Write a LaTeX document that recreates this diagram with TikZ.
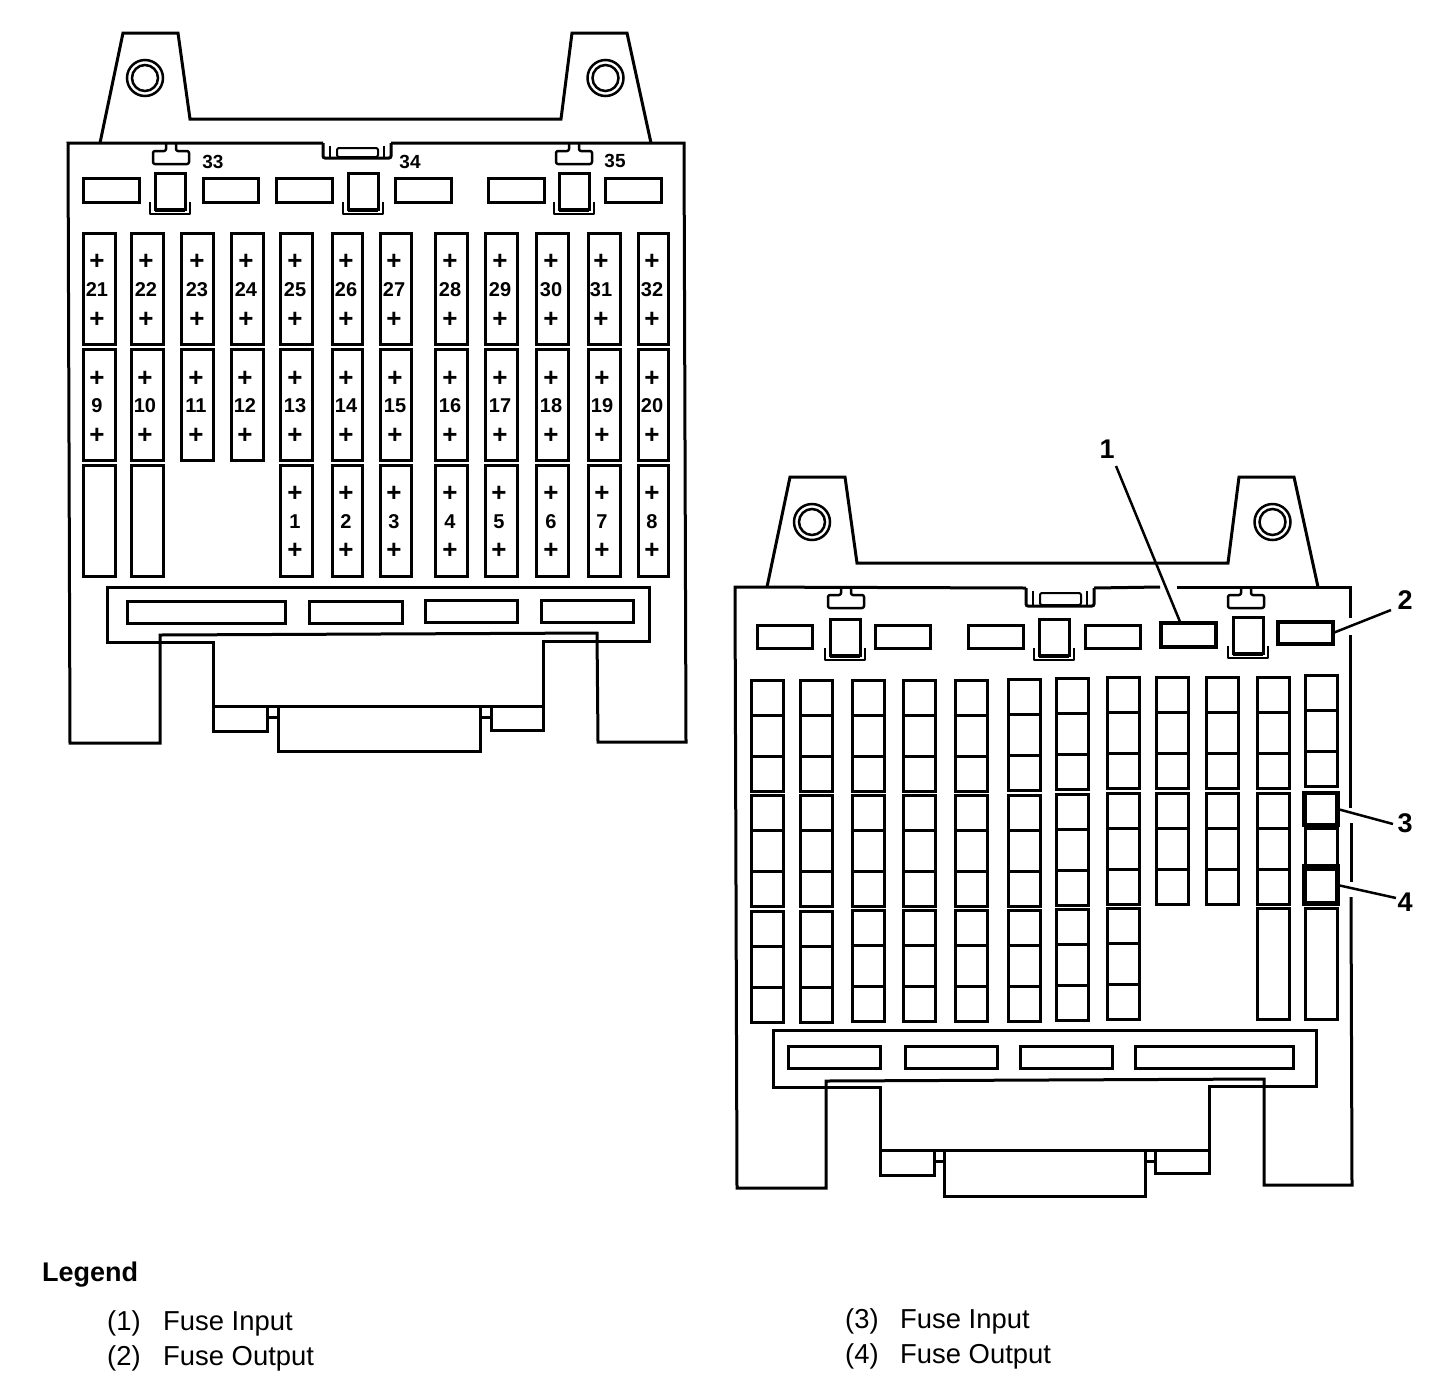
\documentclass[tikz,border=0pt]{standalone}
\usepackage{fontspec}
\setmainfont{Liberation Sans}
\tikzset{
  ln/.style={draw=black,line width=3pt,line join=miter},
  thin ln/.style={draw=black,line width=2pt,line join=round},
  fuseno/.style={inner sep=0pt,font=\fontsize{20}{20}\selectfont\bfseries},
  topno/.style={inner sep=0pt,font=\fontsize{19}{19}\selectfont\bfseries},
  plus/.style={inner sep=0pt,font=\fontsize{26}{26}\selectfont\bfseries},
  callout/.style={inner sep=0pt,font=\fontsize{27}{27}\selectfont\bfseries},
  legendtxt/.style={inner sep=0pt,anchor=base west,font=\fontsize{27.4}{27.4}\selectfont},
  leader/.style={draw=black,line width=2.5pt},
  targetbox/.style={draw=black,inner sep=0pt,outer sep=0pt}
}
\newcommand{\rr}[5][ln]{\draw[#1] (#2,#3) rectangle (#4,#5);}
\newcommand{\tabs}[2]{%
  \begin{scope}[shift={(#1,#2)}]
  \draw[ln] (100,143) -- (123,33) -- (178,33) -- (190,119) -- (561,119) -- (572,33) -- (627,33) -- (651,143);
  \draw[line width=2.5pt] (145,78) circle (18);
  \draw[line width=2.5pt] (145,78) circle (13);
  \draw[line width=2.5pt] (605.5,78) circle (18);
  \draw[line width=2.5pt] (605.5,78) circle (13);
  \end{scope}}
% notch: left x, top y, depth
\newcommand{\notch}[3]{%
  \begin{scope}[shift={(#1,#2)}]
  \draw[ln,rounded corners=2pt] (0,0) -- (0,#3) -- (68,#3) -- (68,0);
  \draw[thin ln] (7,3) -- (7,#3-1);
  \draw[thin ln] (61,3) -- (61,#3-1);
  \draw[thin ln,rounded corners=2pt] (14,5) rectangle (55,#3-1);
  \end{scope}}
\newcommand{\tclip}[2]{%
  \begin{scope}[shift={(#1,#2)}]
  \draw[thin ln,line width=2.5pt,rounded corners=2pt] (-5,0) -- (-5,8) -- (-18,8) -- (-18,21) -- (18,21) -- (18,8) -- (5,8) -- (5,0);
  \end{scope}}
\newcommand{\fholder}[2]{%
  \draw[thin ln,line width=2.5pt] (#1-20,#2+29) -- (#1-20,#2+41) -- (#1+20,#2+41) -- (#1+20,#2+29);
  \fill[white] (#1-15,#2) rectangle (#1+15,#2+36);
  \draw[ln] (#1-15,#2) rectangle (#1+15,#2+36);
  \draw[thin ln] (#1-15,#2+38) -- (#1+15,#2+38);
}
\begin{document}
\begin{tikzpicture}[x=1pt,y=-1pt]
\useasboundingbox (0,0) rectangle (1456,1382);
\fill[white] (0,0) rectangle (1456,1382);

%% ---------- LEFT PANEL ----------
\tabs{0}{0}
\draw[ln] (323,143) -- (68,143) -- (70,743) -- (160,743) -- (160,635) -- (597,633) -- (598,742) -- (686,742) -- (684,143) -- (391,143);
\notch{323}{143}{15}
\tclip{171}{143}
\tclip{574}{143}
\foreach \a/\b in {83/139,203/258,276/332,395/451,488/544,605/661}{
  \rr{\a}{178}{\b}{202}
}
\fholder{170}{173}
\fholder{363}{173}
\fholder{574}{173}
\node[topno] (n33) at (213,162) {33};
\node[topno] (n34) at (410,162) {34};
\node[topno] (n35) at (615,161) {35};

\foreach \a/\b in {83/115,131/163,181/213,231/263,280/312,332/362,380/411,435/467,485/517,536/568,588/620,638/668}{
  \rr{\a}{233}{\b}{344}
  \rr{\a}{349}{\b}{460}
}
\foreach \a/\b in {83/115,131/163,280/312,332/362,380/411,435/467,485/517,536/568,588/620,638/668}{
  \rr{\a}{465}{\b}{576}
}

\foreach \t/\x in {21/97,22/146,23/197,24/246,25/295,26/346,27/394,28/450,29/500,30/551,31/601,32/652}{
  \node[plus] (pa\t) at (\x,262) {+};
  \node[fuseno] (f\t) at (\x,290) {\t};
  \node[plus] (pb\t) at (\x,319.5) {+};
}
\foreach \t/\x in {9/97,10/145,11/196,12/245,13/295,14/346,15/395,16/450,17/500,18/551,19/602,20/652}{
  \node[plus] (pa\t) at (\x,379) {+};
  \node[fuseno] (f\t) at (\x,406) {\t};
  \node[plus] (pb\t) at (\x,436) {+};
}
\foreach \t/\x in {1/295,2/346,3/394,4/450,5/499,6/551,7/602,8/652}{
  \node[plus] (pa\t) at (\x,494) {+};
  \node[fuseno] (f\t) at (\x,522) {\t};
  \node[plus] (pb\t) at (\x,551) {+};
}

\draw[ln] (160,642) -- (107,642) -- (107,587) -- (649,587) -- (649,641) -- (597,641);
\draw[ln] (160,642) -- (213,642) -- (213,731) -- (267,731) -- (267,706);
\draw[ln] (597,641) -- (543,641) -- (543,730) -- (491,730) -- (491,706);
\draw[ln] (213,706) -- (543,706);
\rr{278}{706}{480}{751}
\draw[ln] (267,717) -- (278,717);
\draw[ln] (480,717) -- (491,717);
\foreach \a/\b/\c/\d in {127/601/285/623,309/601/402/623,425/600/517/622,541/600/633/622}{
  \rr{\a}{\b}{\c}{\d}
}

%% ---------- RIGHT PANEL ----------
\tabs{667}{444}
\draw[ln] (1026,588) -- (735,587) -- (737,1188) -- (826,1188) -- (826,1081) -- (1264,1079) -- (1264,1185) -- (1352,1185) -- (1351,897);
\draw[ln] (1351,823) -- (1351,882);
\draw[ln] (1350,635) -- (1350,808);
\draw[ln] (1350,618) -- (1350,587) -- (1177,587);
\draw[ln] (1160,587) -- (1094,588);
\notch{1026}{588}{18}
\tclip{846}{587}
\tclip{1246}{587}
\foreach \a/\b in {757/812,875/930,968/1023,1085/1140}{
  \rr{\a}{625}{\b}{648}
}
\node[targetbox,line width=3.5pt,minimum width=55pt,minimum height=24pt] (box1) at (1188.5,635) {};
\node[targetbox,line width=4.5pt,minimum width=55pt,minimum height=22pt] (box2) at (1305.5,633) {};
\fholder{845}{619}
\fholder{1054}{619}
\fholder{1248}{617}

\foreach \x/\ya/\yb/\yc in {751/680/795/911,800/680/795/911,852/680/795/910,903/680/795/910,955/680/795/910,1008/679/795/910,1056/678/794/909,1107/677/793/908}{
  \foreach \y in {\ya,\yb,\yc}{
    \draw[ln] (\x,\y) rectangle (\x+32,\y+111);
    \draw[ln] (\x,\y+35) -- (\x+32,\y+35);
    \draw[ln] (\x,\y+76) -- (\x+32,\y+76);
  }
}
\foreach \x/\ya/\yb in {1156/677/793,1206/677/793,1257/677/793,1305/675/793}{
  \foreach \y in {\ya,\yb}{
    \draw[ln] (\x,\y) rectangle (\x+32,\y+111);
    \draw[ln] (\x,\y+35) -- (\x+32,\y+35);
    \draw[ln] (\x,\y+76) -- (\x+32,\y+76);
  }
}
\rr{1257}{908}{1289}{1019}
\rr{1305}{908}{1337}{1019}
\node[targetbox,line width=4.5pt,minimum width=33pt,minimum height=32pt] (box3) at (1321,809) {};
\node[targetbox,line width=4.5pt,minimum width=33pt,minimum height=37pt] (box4) at (1321,885) {};

\draw[ln] (826,1087) -- (773,1087) -- (773,1030) -- (1316,1030) -- (1316,1086) -- (1264,1086);
\draw[ln] (826,1087) -- (880,1087) -- (880,1175) -- (934,1175) -- (934,1150);
\draw[ln] (1264,1086) -- (1209,1086) -- (1209,1173) -- (1155,1173) -- (1155,1150);
\draw[ln] (880,1150) -- (1209,1150);
\rr{944}{1150}{1145}{1196}
\draw[ln] (934,1161) -- (944,1161);
\draw[ln] (1145,1161) -- (1155,1161);
\foreach \a/\b in {788/880,905/997,1020/1112,1135/1293}{
  \rr{\a}{1046}{\b}{1068}
}

\node[callout] (c1) at (1107,449) {1};
\node[callout] (c2) at (1405,600) {2};
\node[callout] (c3) at (1405,823) {3};
\node[callout] (c4) at (1405,902) {4};
\coordinate (e1) at (1116,466);
\coordinate (e2) at (1391,610);
\coordinate (e3) at (1393,824);
\coordinate (e4) at (1396,898);
\draw[leader] (e1) -- ([xshift=-8pt]box1.north);
\draw[leader] (e2) -- (box2.east);
\draw[leader] (e3) -- (box3.east);
\draw[leader] (e4) -- (box4.east);

\node[legendtxt,font=\fontsize{27}{27}\selectfont\bfseries] (lg) at (42,1281) {Legend};
\node[legendtxt] (la1) at (107,1330) {(1)};
\node[legendtxt] (lb1) at (163,1330) {Fuse Input};
\node[legendtxt] (la2) at (107,1365) {(2)};
\node[legendtxt] (lb2) at (163,1365) {Fuse Output};
\node[legendtxt] (la3) at (845,1328) {(3)};
\node[legendtxt] (lb3) at (900,1328) {Fuse Input};
\node[legendtxt] (la4) at (845,1363) {(4)};
\node[legendtxt] (lb4) at (900,1363) {Fuse Output};
\end{tikzpicture}
\end{document}
